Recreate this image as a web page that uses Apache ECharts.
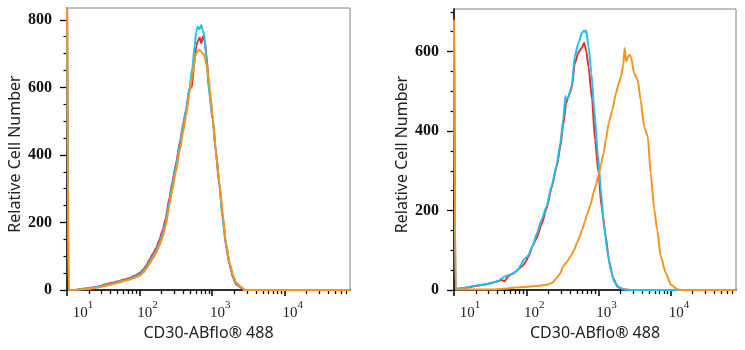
<!DOCTYPE html>
<html>
<head>
<meta charset="utf-8">
<script src="https://cdn.jsdelivr.net/npm/echarts@6/dist/echarts.min.js"></script>
<style>
html, body { margin: 0; padding: 0; background: #fff; }
#chart { width: 745px; height: 350px; }
</style>
</head>
<body>
<div id="chart"></div>
<script>
// x values are log10 of the CD30-ABflo 488 intensity, y values are cell counts

// left panel
var leftRedX = [1.00, 1.02, 1.12, 1.16, 1.28, 1.38, 1.45, 1.52, 1.59, 1.66, 1.72, 1.79, 1.86, 1.93, 2.00, 2.05, 2.09, 2.14, 2.18, 2.23, 2.27, 2.32, 2.36, 2.41, 2.45, 2.50, 2.56, 2.60, 2.64, 2.69, 2.72, 2.75, 2.78, 2.80, 2.83, 2.85, 2.88, 2.90, 2.92, 2.96, 3.01, 3.05, 3.10, 3.15, 3.19, 3.24, 3.29, 3.33, 3.40, 3.45, 4.90]
var leftRedY = [900, 0, 0, 2, 5, 8, 11, 16, 20, 23, 27, 31, 35, 42, 50, 60, 72, 90, 106, 124, 146, 178, 212, 272, 318, 372, 442, 490, 532, 598, 600, 665, 722, 736, 748, 731, 752, 735, 700, 590, 502, 410, 310, 210, 132, 74, 36, 17, 6, 0, 0]

var leftCyanX = [1.00, 1.02, 1.12, 1.16, 1.28, 1.38, 1.45, 1.52, 1.59, 1.66, 1.72, 1.79, 1.86, 1.93, 2.00, 2.05, 2.09, 2.14, 2.18, 2.23, 2.27, 2.32, 2.36, 2.41, 2.45, 2.50, 2.56, 2.60, 2.64, 2.69, 2.73, 2.76, 2.78, 2.80, 2.825, 2.85, 2.87, 2.89, 2.92, 2.96, 3.01, 3.05, 3.10, 3.14, 3.19, 3.24, 3.29, 3.33, 3.40, 3.45, 4.90]
var leftCyanY = [900, 0, 0, 2, 4, 7, 10, 14, 18, 21, 25, 28, 32, 39, 46, 56, 67, 84, 99, 118, 138, 168, 200, 262, 310, 365, 435, 485, 533, 602, 662, 725, 765, 780, 772, 785, 770, 755, 690, 583, 504, 415, 316, 217, 138, 79, 39, 20, 8, 0, 0]

var leftOrangeX = [1.00, 1.02, 1.12, 1.16, 1.28, 1.38, 1.45, 1.52, 1.59, 1.66, 1.72, 1.79, 1.86, 1.93, 2.00, 2.05, 2.09, 2.14, 2.18, 2.23, 2.27, 2.32, 2.36, 2.41, 2.45, 2.50, 2.56, 2.60, 2.64, 2.69, 2.73, 2.76, 2.78, 2.80, 2.82, 2.85, 2.87, 2.89, 2.92, 2.95, 2.98, 3.01, 3.05, 3.10, 3.15, 3.19, 3.24, 3.29, 3.33, 3.40, 3.45, 4.90]
var leftOrangeY = [900, 0, 0, 1, 3, 6, 8, 12, 15, 19, 22, 27, 31, 36, 42, 51, 62, 78, 92, 110, 130, 158, 190, 248, 294, 350, 418, 468, 515, 585, 640, 685, 701, 706, 711, 706, 700, 696, 667, 632, 572, 505, 415, 318, 218, 140, 82, 42, 22, 9, 0, 0]

// right panel
var rightRedX = [1.00, 1.02, 1.06, 1.12, 1.19, 1.26, 1.33, 1.40, 1.47, 1.54, 1.61, 1.66, 1.70, 1.73, 1.76, 1.80, 1.85, 1.89, 1.93, 1.96, 2.00, 2.03, 2.09, 2.14, 2.21, 2.28, 2.35, 2.42, 2.47, 2.51, 2.55, 2.58, 2.63, 2.67, 2.72, 2.77, 2.80, 2.83, 2.86, 2.91, 2.95, 3.00, 3.04, 3.10, 3.14, 3.20, 3.26, 3.35, 3.45, 4.90]
var rightRedY = [640, 3, 3, 5, 6, 9, 11, 13, 16, 19, 22, 25, 22, 30, 36, 40, 45, 52, 58, 63, 74, 85, 112, 130, 165, 205, 258, 310, 360, 415, 470, 485, 510, 570, 598, 610, 622, 600, 562, 479, 378, 294, 210, 134, 76, 30, 8, 1, 0, 0]

var rightCyanX = [1.00, 1.02, 1.06, 1.12, 1.19, 1.26, 1.33, 1.40, 1.47, 1.54, 1.61, 1.66, 1.70, 1.75, 1.80, 1.85, 1.89, 1.93, 1.96, 2.00, 2.03, 2.09, 2.14, 2.21, 2.28, 2.35, 2.42, 2.47, 2.51, 2.54, 2.55, 2.58, 2.63, 2.67, 2.72, 2.77, 2.80, 2.82, 2.83, 2.86, 2.90, 2.94, 2.99, 3.03, 3.07, 3.12, 3.17, 3.22, 3.28, 3.36, 3.45, 4.90]
var rightCyanY = [660, 3, 3, 5, 7, 10, 12, 13, 15, 19, 23, 29, 34, 37, 40, 46, 52, 65, 76, 82, 88, 112, 140, 176, 210, 262, 315, 370, 428, 488, 480, 485, 516, 588, 621, 647, 653, 648, 652, 613, 546, 453, 340, 255, 168, 100, 48, 20, 7, 1, 0, 0]

var rightOrangeX = [1.00, 1.02, 1.50, 1.68, 1.85, 2.06, 2.19, 2.30, 2.36, 2.42, 2.47, 2.51, 2.56, 2.61, 2.66, 2.70, 2.74, 2.77, 2.81, 2.84, 2.89, 2.93, 2.96, 3.00, 3.03, 3.07, 3.10, 3.14, 3.19, 3.24, 3.28, 3.31, 3.34, 3.36, 3.38, 3.41, 3.43, 3.45, 3.49, 3.54, 3.58, 3.63, 3.68, 3.72, 3.77, 3.81, 3.86, 3.93, 4.00, 4.09, 4.15, 4.90]
var rightOrangeY = [680, 1, 1, 3, 6, 9, 11, 14, 18, 30, 42, 60, 70, 84, 100, 118, 135, 151, 172, 190, 215, 245, 262, 290, 315, 345, 378, 420, 453, 495, 520, 537, 565, 609, 575, 588, 592, 585, 546, 529, 479, 411, 386, 294, 202, 151, 84, 42, 13, 2, 0, 0]

// axis ticks
var decades = [1, 2, 3, 4]
var leftYTicks = [0, 200, 400, 600, 800]
var rightYTicks = [0, 200, 400, 600]

var xMin = 1
var xMax = 4.9
var leftYMax = 835
var rightYMax = 707

var RED = '#ee2a2e'
var CYAN = '#1cc3f0'
var ORANGE = '#f7941e'

var minorX = []
for (var d = 1; d <= 4; d++) {
    for (var m = 2; m <= 9; m++) {
        var v = d + Math.log10(m)
        if (v < xMax) minorX.push(v)
    }
}
function minorY(max) {
    var out = []
    for (var t = 50; t < max; t += 50) {
        if (t % 200 !== 0) out.push(t)
    }
    return out
}
function pairs(xs, ys) {
    return xs.map(function (x, i) { return [x, ys[i]] })
}

function xAxes(gridIndex) {
    return [{
        gridIndex: gridIndex,
        type: 'value',
        min: xMin,
        max: xMax,
        position: 'bottom',
        name: 'CD30-ABflo® 488',
        nameLocation: 'middle',
        nameGap: 34,
        nameTextStyle: { fontFamily: 'Noto Sans', fontSize: 16, color: '#222' },
        axisLine: { show: true, onZero: false, lineStyle: { color: '#000', width: 1.5 } },
        axisTick: { show: true, inside: false, customValues: decades, length: 6, lineStyle: { color: '#000', width: 1.5 } },
        axisLabel: {
            customValues: decades,
            margin: 10,
            formatter: function (v) {
                var e = Math.round(v)
                return (e === 1 ? '{f|10}' : '{b|10}') + '{s|' + e + '}'
            },
            rich: {
                b: { fontFamily: 'Liberation Serif', fontSize: 15, color: '#222', padding: [6, 0, 0, 16], verticalAlign: 'bottom' },
                f: { fontFamily: 'Liberation Serif', fontSize: 15, color: '#222', padding: [6, 0, 0, 32], verticalAlign: 'bottom' },
                s: { fontFamily: 'Liberation Serif', fontSize: 11, color: '#222', verticalAlign: 'top' }
            }
        },
        splitLine: { show: false }
    }, {
        gridIndex: gridIndex,
        type: 'value',
        min: xMin,
        max: xMax,
        position: 'bottom',
        axisLine: { show: false, onZero: false },
        axisTick: { show: true, inside: false, customValues: minorX, length: 4, lineStyle: { color: '#000', width: 1.3 } },
        axisLabel: { show: false },
        splitLine: { show: false }
    }]
}

function yAxes(gridIndex, max, ticks) {
    return [{
        gridIndex: gridIndex,
        type: 'value',
        min: 0,
        max: max,
        position: 'left',
        name: 'Relative Cell Number',
        nameLocation: 'middle',
        nameGap: 44,
        nameTextStyle: { fontFamily: 'Noto Sans', fontSize: 16, color: '#222', padding: [0, 10, 0, 0] },
        axisLine: { show: true, onZero: false, lineStyle: { color: '#000', width: 1.5 } },
        axisTick: { show: true, customValues: ticks, length: 7, lineStyle: { color: '#000', width: 1.3 } },
        axisLabel: {
            customValues: ticks,
            margin: 15,
            fontFamily: 'Liberation Serif',
            fontWeight: 'bold',
            fontSize: 16,
            color: '#111'
        },
        splitLine: { show: false }
    }, {
        gridIndex: gridIndex,
        type: 'value',
        min: 0,
        max: max,
        position: 'left',
        axisLine: { show: false, onZero: false },
        axisTick: { show: true, customValues: minorY(max), length: 3.5, lineStyle: { color: '#000', width: 1.2 } },
        axisLabel: { show: false },
        splitLine: { show: false }
    }]
}

function curve(name, color, xs, ys, gridIndex) {
    return {
        name: name,
        type: 'line',
        xAxisIndex: gridIndex * 2,
        yAxisIndex: gridIndex * 2,
        data: pairs(xs, ys),
        showSymbol: false,
        symbol: 'none',
        smooth: 0.2,
        smoothMonotone: 'x',
        clip: true,
        lineStyle: { color: color, width: 2 },
        itemStyle: { color: color }
    }
}

var chart = echarts.init(document.getElementById('chart'))
chart.setOption({
    animation: false,
    backgroundColor: '#fff',
    grid: [
        { left: 67, right: 395, top: 8, bottom: 60, show: true, borderColor: '#808080', borderWidth: 1 },
        { left: 454, right: 9, top: 9, bottom: 60, show: true, borderColor: '#808080', borderWidth: 1 }
    ],
    xAxis: xAxes(0).concat(xAxes(1)),
    yAxis: yAxes(0, leftYMax, leftYTicks).concat(yAxes(1, rightYMax, rightYTicks)),
    series: [
        curve('red', RED, leftRedX, leftRedY, 0),
        curve('cyan', CYAN, leftCyanX, leftCyanY, 0),
        curve('orange', ORANGE, leftOrangeX, leftOrangeY, 0),
        curve('red', RED, rightRedX, rightRedY, 1),
        curve('cyan', CYAN, rightCyanX, rightCyanY, 1),
        curve('orange', ORANGE, rightOrangeX, rightOrangeY, 1)
    ]
})
</script>
</body>
</html>
